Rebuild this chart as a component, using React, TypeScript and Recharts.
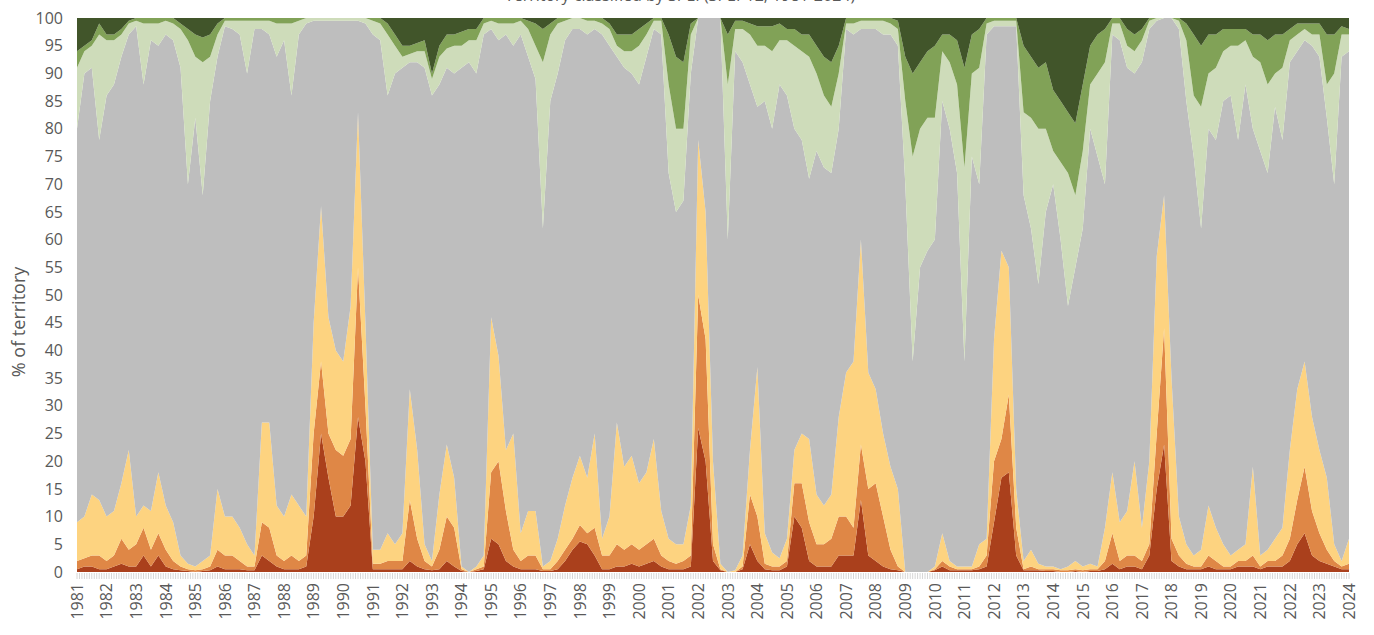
import { AreaChart, Area, XAxis, YAxis } from 'recharts';

// quarterly samples, Jan 1981 .. Jan 2024
const quarters = Array.from({ length: 173 }, (_, k) => 1981 + k / 4);

const yearTicks = [
  1981, 1982, 1983, 1984, 1985, 1986, 1987, 1988, 1989, 1990, 1991, 1992, 1993, 1994, 1995,
  1996, 1997, 1998, 1999, 2000, 2001, 2002, 2003, 2004, 2005, 2006, 2007, 2008, 2009, 2010,
  2011, 2012, 2013, 2014, 2015, 2016, 2017, 2018, 2019, 2020, 2021, 2022, 2023, 2024,
];
// small monthly marks on the category axis
const monthTicks = Array.from({ length: 517 }, (_, i) => 1981 + i / 12);
const pctTicks = [0, 5, 10, 15, 20, 25, 30, 35, 40, 45, 50, 55, 60, 65, 70, 75, 80, 85, 90, 95, 100];

// % of territory per SPEI class
const extremeDry = [
  0.5, 1, 1, 0.5, 0.5, 1, 1.5, 1, 1, 3,
  1, 3, 1, 0.5, 0.3, 0.2, 0, 0.2, 0.3, 1,
  0.5, 0.5, 0.5, 0.3, 0.3, 3, 2, 1, 0.5, 0.5,
  0.5, 1, 10, 25, 17, 10, 10, 12, 28, 20,
  0.5, 0.5, 0.5, 0.5, 0.5, 2, 1, 0.5, 0.3, 0.5,
  2, 1, 0.2, 0, 0.2, 0.5, 6, 5, 2, 1,
  0.5, 0.5, 0.5, 0.2, 0.2, 0.5, 2, 4, 5.5, 5,
  3, 0.5, 0.5, 1, 1, 1.5, 1, 1.5, 2, 1,
  0.5, 0.5, 0.5, 1, 26, 20, 2, 0.3, 0, 0,
  0.5, 5, 2, 0.5, 0.3, 0.3, 1, 10, 8, 2,
  1, 1, 1, 3, 3, 3, 13, 3, 2, 1,
  0.5, 0.3, 0, 0, 0, 0, 0.3, 1, 0.3, 0.3,
  0.3, 0.3, 0.5, 1, 9, 17, 18, 3, 0.3, 0.3,
  0.3, 0.2, 0.2, 0, 0, 0.2, 0, 0.2, 0.2, 0.5,
  1.5, 0.5, 1, 1, 0.5, 3, 15, 23, 2, 1,
  0.5, 0.5, 0.5, 1, 0.5, 0.5, 0.5, 1, 1, 1,
  0.5, 1, 1, 1, 2, 5, 7, 3, 2, 1.5,
  1, 0.5, 0.5,
];
const severeDry = [
  1.5, 1.5, 2, 2.5, 1.5, 2, 4.5, 3, 4, 5,
  3, 4, 3, 1.5, 0.7, 0.3, 0.3, 0.3, 0.7, 3,
  2.5, 2.5, 1.5, 0.7, 0.7, 6, 6, 2, 1.5, 2.5,
  1.5, 2, 15, 13, 8, 12, 11, 12, 27, 10,
  1, 1, 1.5, 1.5, 1.5, 11, 5, 1.5, 0.7, 3.5,
  8, 7, 0.3, 0, 0.3, 0.5, 12, 15, 9, 3,
  1.5, 2.5, 2.5, 0.3, 0.3, 1.5, 2, 2, 3, 2,
  5, 2.5, 2.5, 4, 3, 3.5, 3, 3.5, 4, 2,
  1.5, 1, 1.5, 2, 24, 22, 3, 0.2, 0, 0,
  0.5, 9, 8, 1, 0.7, 0.7, 1, 6, 8, 7,
  4, 4, 5, 7, 7, 5, 10, 12, 14, 9,
  3.5, 0.7, 0, 0, 0, 0, 0.2, 1, 0.7, 0.2,
  0.2, 0.2, 0.5, 2, 11, 7, 14, 5, 0.2, 0.7,
  0.2, 0.3, 0.3, 0.3, 0.3, 0.3, 0.3, 0.3, 0.3, 1.5,
  5.5, 1.5, 2, 2, 1.5, 2, 10, 21, 4, 2,
  1, 0.5, 0.5, 2, 1.5, 0.5, 0.5, 1, 1, 2,
  0.5, 1, 1, 2, 4, 8, 12, 8, 5, 2.5,
  1, 0.5, 1,
];
const moderateDry = [
  7, 7.5, 11, 10, 8, 8, 10, 18, 5, 4,
  7, 11, 8, 7, 2, 1, 0.7, 1.5, 2, 11,
  7, 7, 6, 4, 2, 18, 19, 9, 8, 11,
  10, 7, 20, 28, 21, 18, 17, 24, 28, 15,
  2.5, 2.5, 5, 3, 5, 20, 16, 3, 1, 10,
  13, 9, 0.5, 0, 0.5, 2, 28, 19, 11, 21,
  5, 8, 8, 0.5, 1.5, 4, 8, 11, 12.5, 10,
  17, 3, 7, 22, 15, 16, 12, 13, 18, 8,
  4, 3.5, 3, 9, 28, 23, 15, 1, 0, 0.3,
  2, 8, 27, 5.5, 2.5, 1.5, 4, 6, 9, 15,
  9, 7, 8, 18, 26, 30, 37, 21, 17, 15,
  15, 14, 0, 0, 0, 0, 0.5, 5, 1, 0.5,
  0.5, 0.5, 4, 3, 22, 34, 23, 7, 1.5, 3,
  1, 0.5, 0.5, 0.2, 0.7, 1.5, 0.7, 1, 0.5, 6,
  11, 7, 8, 17, 6, 15, 32, 24, 29, 7,
  3.5, 2, 3, 9, 6, 4, 2, 2, 3, 16,
  2, 2, 4, 5, 16, 20, 19, 17, 15, 13,
  3, 1, 4.5,
];
const normal = [
  71, 80, 77, 65, 76, 77, 77, 75, 88.5, 76,
  85, 77, 85, 87, 88, 68.5, 81, 66, 82, 78,
  88.5, 88, 89, 85, 95, 71, 70, 81, 86, 72,
  85, 89, 54.5, 33.5, 53.5, 59.5, 61.5, 51.5, 16.5, 54,
  93, 92, 79, 85, 84, 59, 70, 86, 84, 74,
  68, 73, 90, 92, 89, 94, 52, 57, 75, 70,
  90, 82, 78, 61, 83, 84, 84, 81, 77, 80,
  73, 91, 85, 66, 72, 69, 72, 75, 74, 86,
  66, 60, 62, 78, 22, 35, 80, 98.5, 60, 93.7,
  89, 66, 47, 78, 76.5, 85.5, 80, 58, 53, 47,
  62, 61, 58, 52, 62, 59, 38, 62, 65, 72,
  78, 80, 70, 38, 55, 58, 59, 78, 78, 71,
  37, 74, 65, 91, 56.5, 40.5, 43.5, 83.5, 66, 58,
  50.5, 64, 69, 59.5, 47, 53, 61, 78.5, 74, 62,
  79, 87, 80, 70, 84, 78, 42.5, 32, 65, 88,
  80, 72, 58, 68, 70, 80, 83, 74, 83, 61,
  73, 68, 78, 70, 70, 61, 58, 67, 71, 65,
  65, 91, 88,
];
const moderateWet = [
  11, 4, 4, 19, 10, 8, 4, 2, 1, 11,
  3, 4, 2.5, 3, 7, 26, 11, 24, 8, 4,
  1, 1.5, 2.5, 9.5, 1.5, 1.5, 2.5, 6, 3, 13,
  2.5, 1, 0.5, 0.5, 0.5, 0.5, 0.5, 0.5, 0.5, 1,
  2.5, 3, 11, 5, 2, 1.5, 2, 3, 3, 5,
  3.5, 5, 4, 4, 6, 2, 1.5, 3, 2, 4,
  2.5, 5, 6, 30, 12, 9, 3.5, 2, 2, 2.5,
  1.5, 2, 3, 2, 3, 4, 7, 4, 1.5, 2.5,
  16, 15, 13, 7, 0, 0, 0, 0, 28, 4,
  6, 9, 11, 10, 14, 8, 10, 15, 16, 22,
  14, 13, 12, 10, 1, 2, 1.5, 1.5, 1.5, 2.5,
  2, 3, 15, 37, 25, 24, 22, 9, 12, 16,
  35, 15, 21, 2, 1, 1, 1, 1, 15, 20,
  28, 15, 6, 14, 24, 13, 14, 8, 15, 22,
  2, 3, 4, 4, 4, 1.5, 0.5, 0, 0, 1.5,
  11, 11, 22, 10, 13, 9, 9, 17, 8, 13,
  16, 16, 6, 13, 4, 3, 2, 2, 4, 6,
  20, 4, 3,
];
const severeWet = [
  3, 1, 1, 2, 1, 1, 1, 0.5, 0.5, 1,
  1, 1, 0.5, 1, 1, 2, 4, 4.5, 4, 2,
  0.5, 0.5, 0.5, 0.5, 0.5, 0.5, 0.5, 1, 1, 1,
  0.5, 0, 0, 0, 0, 0, 0, 0, 0, 0,
  0.5, 1, 2, 2, 2, 1.5, 1.5, 2, 1, 2,
  2.5, 2, 2.5, 2, 2, 1, 0.5, 1, 1, 1,
  0.5, 1.5, 4, 6, 2, 1, 0.5, 0, 0, 0.5,
  0.5, 1, 1, 2, 3, 3, 3, 2, 0.5, 0.5,
  9, 13, 12, 2, 0, 0, 0, 0, 9, 1.5,
  1.5, 2, 3.5, 3.5, 4.5, 3, 2, 3, 3, 4,
  5, 7, 8, 5, 1, 1, 0.5, 0.5, 0.5, 0.5,
  1, 1.5, 8, 15, 12, 12, 13, 3, 5, 8,
  18, 7, 7, 1, 0.5, 0.5, 0.5, 0.5, 12, 11,
  11, 12, 11, 11, 11, 13, 12, 7, 7, 6,
  1, 1, 3, 3, 2, 0.5, 0, 0, 0, 0.5,
  3, 11, 11, 7, 6, 4, 3, 3, 2, 4,
  5, 8, 7, 6, 2, 2, 1, 2, 2, 9,
  7, 1.5, 1,
];
const extremeWet = [
  6, 5, 4, 1, 3, 3, 2, 0.5, 0, 0,
  0, 0, 0, 0, 1, 2, 3, 3.5, 3, 1,
  0, 0, 0, 0, 0, 0, 0, 0, 0, 0,
  0, 0, 0, 0, 0, 0, 0, 0, 0, 0,
  0, 0, 1, 3, 5, 5, 4.5, 4, 10, 5,
  3, 3, 2.5, 2, 2, 0, 0, 0, 0, 0,
  0, 0.5, 1, 2, 1, 0, 0, 0, 0, 0,
  0, 0, 1, 3, 3, 3, 2, 1, 0, 0,
  3, 7, 8, 1, 0, 0, 0, 0, 3, 0.5,
  0.5, 1, 1.5, 1.5, 1.5, 1, 2, 2, 3, 3,
  5, 7, 8, 5, 0, 0, 0, 0, 0, 0,
  0, 0.5, 7, 10, 8, 6, 5, 3, 3, 4,
  9, 3, 2, 0, 0, 0, 0, 0, 5, 7,
  9, 8, 13, 15, 17, 19, 12, 5, 3, 2,
  0, 0, 2, 3, 2, 0, 0, 0, 0, 0,
  1, 3, 5, 3, 3, 2, 2, 2, 2, 3,
  3, 4, 3, 3, 2, 1, 1, 1, 1, 3,
  3, 1.5, 2,
];

const data = quarters.map((t, i) => ({
  t,
  extremeDry: extremeDry[i],
  severeDry: severeDry[i],
  moderateDry: moderateDry[i],
  normal: normal[i],
  moderateWet: moderateWet[i],
  severeWet: severeWet[i],
  extremeWet: extremeWet[i],
}));

const FONT = '"Open Sans", "Noto Sans", sans-serif';
const TEXT = '#595959';

const MonthTick = (props: any) => {
  const { x, y, payload } = props;
  const v = payload.value;
  const isYear = yearTicks.includes(Math.round(v)) && Math.abs(v - Math.round(v)) < 1e-6;
  return (
    <g transform={`translate(${x},${y})`}>
      <line x1={0} x2={0} y1={1} y2={7} stroke="#d6d6d6" strokeWidth={1} />
      {isYear && (
        <text
          transform="rotate(-90)"
          x={-11}
          y={0}
          dy="0.36em"
          textAnchor="end"
          fill={TEXT}
          fontSize={16}
          fontFamily={FONT}
        >
          {Math.round(v)}
        </text>
      )}
    </g>
  );
};

const series = [
  { key: 'extremeDry', color: '#AA401C' },
  { key: 'severeDry', color: '#DF8746' },
  { key: 'moderateDry', color: '#FDD380' },
  { key: 'normal', color: '#BEBEBE' },
  { key: 'moderateWet', color: '#CEDCBA' },
  { key: 'severeWet', color: '#81A257' },
  { key: 'extremeWet', color: '#41552A' },
];

export default function App() {
  return (
    <div style={{ position: 'absolute', left: 0, top: 0, width: 1374, height: 635, overflow: 'hidden', background: '#fff' }}>
      {/* the title sits above the picture's top edge, only its lower part shows */}
      <div
        style={{
          position: 'absolute',
          top: -14,
          left: 0,
          width: 1360,
          textAlign: 'center',
          fontFamily: FONT,
          fontSize: 16,
          lineHeight: '18px',
          color: TEXT,
        }}
      >
        Territory classified by SPEI (SPEI-12, 1981-2024)
      </div>
      <div
        style={{
          position: 'absolute',
          left: 18,
          top: 322,
          transform: 'translate(-50%, -50%) rotate(-90deg)',
          whiteSpace: 'nowrap',
          fontFamily: FONT,
          fontSize: 18,
          color: TEXT,
        }}
      >
        % of territory
      </div>
      <AreaChart
        width={1374}
        height={635}
        data={data}
        stackOffset="expand"
        margin={{ top: 18, right: 25, bottom: 8, left: 0 }}
      >
        <XAxis
          dataKey="t"
          type="number"
          domain={[1981, 2024]}
          ticks={monthTicks}
          interval={0}
          tick={<MonthTick />}
          tickLine={false}
          axisLine={false}
          tickSize={0}
          tickMargin={0}
          height={55}
        />
        <YAxis
          type="number"
          domain={[0, 1]}
          ticks={pctTicks.map((p) => p / 100)}
          tickFormatter={(v: number) => String(Math.round(v * 100))}
          axisLine={false}
          tickLine={false}
          tickMargin={8}
          width={77}
          interval={0}
          tick={{ fill: TEXT, fontSize: 16, fontFamily: FONT }}
        />
        {series.map((s) => (
          <Area
            key={s.key}
            dataKey={s.key}
            stackId="spei"
            type="linear"
            stroke="none"
            fill={s.color}
            fillOpacity={1}
            dot={false}
            activeDot={false}
            isAnimationActive={false}
          />
        ))}
      </AreaChart>
    </div>
  );
}
